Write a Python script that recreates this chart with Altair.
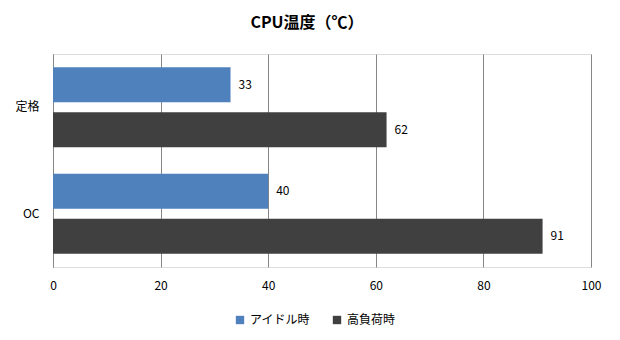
import altair as alt
import pandas as pd

categories = ["定格", "OC"]
series = ["アイドル時", "高負荷時"]
idle = [33, 40]
load = [62, 91]
colors = ["#4F81BD", "#404040"]

rows = []
for i, c in enumerate(categories):
    rows.append({"cat": c, "series": series[0], "value": idle[i]})
    rows.append({"cat": c, "series": series[1], "value": load[i]})
df = pd.DataFrame(rows)

FONT = "Noto Sans CJK JP"

y = alt.Y("cat:N", sort=categories, title=None,
          scale=alt.Scale(paddingInner=0.25, paddingOuter=0.125),
          axis=alt.Axis(ticks=False, domain=True, domainColor="#868686",
                        labelFontSize=12, labelColor="#000000", labelPadding=14,
                        labelFont=FONT))
yoff = alt.YOffset("series:N", sort=series,
                   scale=alt.Scale(paddingInner=0.222, paddingOuter=0))
x = alt.X("value:Q", title=None,
          scale=alt.Scale(domain=[0, 100], nice=False),
          axis=alt.Axis(values=[0, 20, 40, 60, 80, 100], grid=True,
                        gridColor="#868686", gridWidth=1, ticks=False,
                        domain=False, labelFontSize=12, labelColor="#000000",
                        labelPadding=13, labelFont=FONT, labelFlush=False))

bars = alt.Chart(df).mark_bar().encode(
    x=x, y=y, yOffset=yoff,
    color=alt.Color("series:N", sort=series,
                    scale=alt.Scale(domain=series, range=colors),
                    legend=alt.Legend(title=None, orient="none", legendX=181, legendY=260,
                                      direction="horizontal", symbolType="square",
                                      symbolSize=70, symbolStrokeWidth=0,
                                      labelFontSize=12, labelFont=FONT,
                                      labelColor="#000000", columnPadding=20,
                                      symbolOpacity=1)),
)
labels = alt.Chart(df).mark_text(align="left", baseline="middle", dx=8,
                                 fontSize=12, font=FONT, color="#000000").encode(
    x="value:Q", y=alt.Y("cat:N", sort=categories), yOffset=alt.YOffset("series:N", sort=series),
    text="value:Q",
)

chart = (bars + labels).properties(
    width=538, height=213,
    title=alt.TitleParams("CPU温度（℃）", fontSize=16, font=FONT, fontWeight="bold",
                          color="#000000", anchor="middle", dx=-15, offset=23),
    autosize=alt.AutoSizeParams(type="none"),
    padding={"left": 53, "top": 54, "right": 29, "bottom": 73},
).configure_view(stroke=None).configure(background="#ffffff")

chart.save("out.html", embed_options={"renderer": "svg", "actions": False})
